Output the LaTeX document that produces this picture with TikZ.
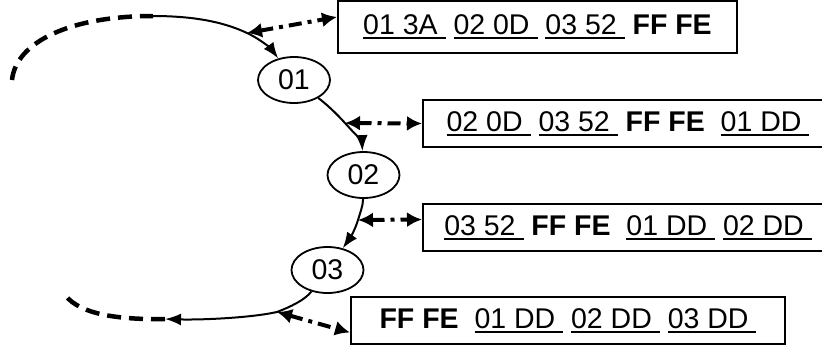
\documentclass[tikz,border=0pt]{standalone}
\usepackage{fontspec}
\setmainfont{Liberation Sans}
\usetikzlibrary{arrows.meta,shapes.geometric}
\newcommand\grp[1]{\setbox0\hbox{#1\ }\rlap{\rule[-4.5pt]{\wd0}{1.8pt}}\box0\relax}
\begin{document}
\begin{tikzpicture}[x=1pt,y=-1pt,
	every node/.style={font=\fontsize{28.5}{34}\selectfont},
	byte/.style={draw,ellipse,line width=1.8pt,minimum width=72pt,minimum height=46pt,inner sep=0pt},
	frame/.style={draw,rectangle,line width=2pt,minimum height=47pt,inner sep=0pt},
	flow/.style={line width=2pt,-{Latex[length=16pt,width=12pt]}},
	loop/.style={line width=4.5pt,dash pattern=on 14pt off 8pt},
	link/.style={line width=4pt,dash pattern=on 13pt off 6pt on 4pt off 6pt,{Latex[length=15pt,width=15pt]}-{Latex[length=15pt,width=15pt]}}]
	\useasboundingbox (0,0) rectangle (822,349);
	% frames
	\node[frame,minimum width=399pt,minimum height=52pt] (f1) at (537.5,27) {\grp{01 3A} \grp{02 0D} \grp{03 52} \textbf{FF FE}};
	\node[frame,minimum width=410pt] (f2) at (628,123.5) {\grp{02 0D} \grp{03 52} \textbf{FF FE\ } \grp{01 DD}};
	\node[frame,minimum width=410pt] (f3) at (628,227.5) {\grp{03 52} \textbf{FF FE\ } \grp{01 DD} \grp{02 DD}};
	\node[frame,minimum width=434pt] (f4) at (568,320.5) {\textbf{FF FE\ } \grp{01 DD} \grp{02 DD} \grp{03 DD}};
	% bytes
	\node[byte] (n01) at (294,80) {01};
	\node[byte] (n02) at (363.5,175) {02};
	\node[byte] (n03) at (327.5,270) {03};
	\coordinate (a0) at (12,80); \coordinate (a1) at (153,16); \coordinate (j01) at (247,33);
	\coordinate (j12) at (345,123); \coordinate (j23) at (358,220); \coordinate (j3) at (277,312);
	\coordinate (b1) at (165,319); \coordinate (b0) at (63,292);
	\draw[loop] (a0) .. controls (16,42) and (70,16) .. (a1); % way in
	\draw[flow] (a1) .. controls (200,16) and (228,24) .. (j01) .. controls (262,40) and (272,50) .. (n01);
	\draw[flow] (n01) .. controls (325,103) and (335,112) .. (j12) .. controls (355,134) and (362,142) .. (n02);
	\draw[flow] (n02) .. controls (363,206) and (360,213) .. (j23) .. controls (355,230) and (350,238) .. (n03);
	\draw[flow] (n03) .. controls (305,300) and (290,307) .. (j3) .. controls (250,318) and (200,320) .. (b1);
	\draw[loop] (b1) .. controls (110,320) and (75,312) .. (b0); % way out
	% reads
	\draw[link] (j01) -- ([yshift=10pt]f1.west);
	\draw[link] (j12) -- (f2.west);
	\draw[link] (j23) -- ([yshift=8pt]f3.west);
	\draw[link] (j3) -- ([yshift=-12pt]f4.west);
\end{tikzpicture}
\end{document}
